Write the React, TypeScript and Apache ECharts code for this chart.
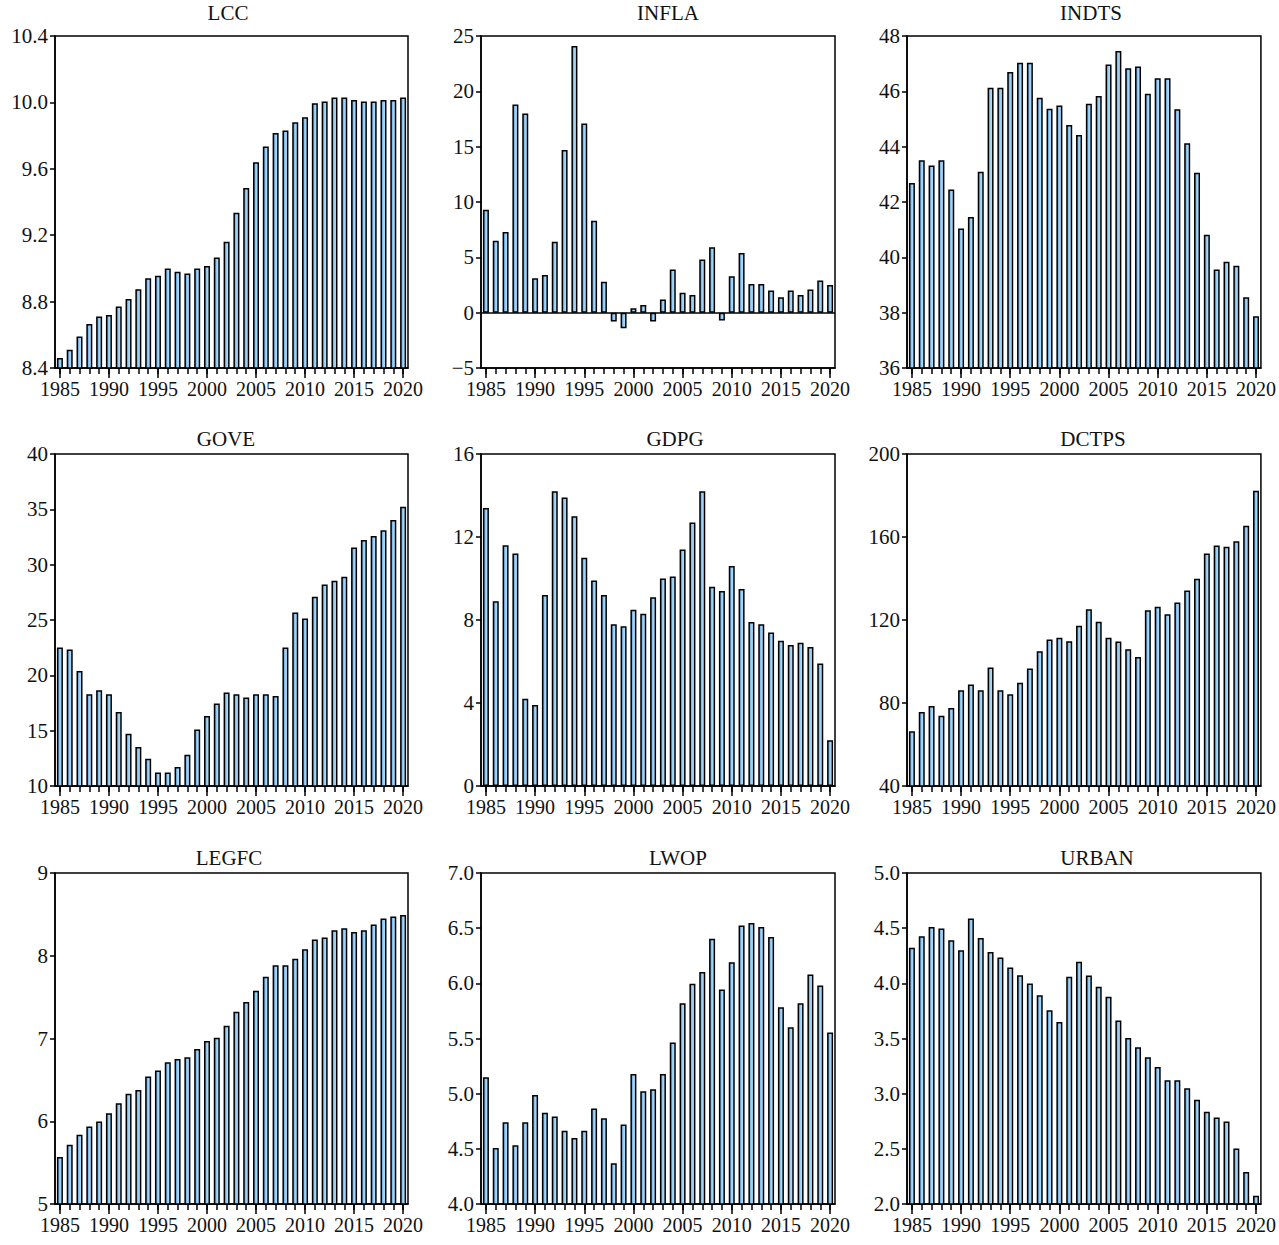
import React, { useEffect, useRef } from "react";
import * as echarts from "echarts";

const years: string[] = [];
for (let y = 1985; y <= 2020; y++) years.push(String(y));

const lcc = [8.46, 8.51, 8.59, 8.665, 8.71, 8.72, 8.77, 8.815, 8.875, 8.94, 8.955, 9.0, 8.98, 8.97, 9.0, 9.015, 9.065, 9.16, 9.335, 9.485, 9.64, 9.735, 9.815, 9.83, 9.88, 9.91, 9.995, 10.005, 10.03, 10.03, 10.015, 10.005, 10.005, 10.015, 10.015, 10.03];
const infla = [9.3, 6.5, 7.3, 18.8, 18.0, 3.1, 3.4, 6.4, 14.7, 24.1, 17.1, 8.3, 2.8, -0.8, -1.4, 0.4, 0.7, -0.8, 1.2, 3.9, 1.8, 1.6, 4.8, 5.9, -0.7, 3.3, 5.4, 2.6, 2.6, 2.0, 1.4, 2.0, 1.6, 2.1, 2.9, 2.5];
const indts = [42.69, 43.51, 43.32, 43.51, 42.45, 41.04, 41.46, 43.09, 46.13, 46.13, 46.7, 47.03, 47.03, 45.77, 45.37, 45.49, 44.78, 44.42, 45.55, 45.83, 46.97, 47.46, 46.83, 46.9, 45.91, 46.47, 46.47, 45.35, 44.12, 43.06, 40.82, 39.56, 39.84, 39.7, 38.56, 37.87];
const gove = [22.51, 22.33, 20.4, 18.29, 18.65, 18.29, 16.69, 14.73, 13.53, 12.47, 11.21, 11.21, 11.72, 12.83, 15.1, 16.33, 17.45, 18.44, 18.29, 17.99, 18.29, 18.29, 18.14, 22.51, 25.68, 25.14, 27.1, 28.21, 28.54, 28.9, 31.56, 32.22, 32.58, 33.12, 34.03, 35.24];
const gdpg = [13.4, 8.9, 11.6, 11.2, 4.2, 3.9, 9.2, 14.2, 13.9, 13.0, 11.0, 9.9, 9.2, 7.8, 7.7, 8.5, 8.3, 9.1, 10.0, 10.1, 11.4, 12.7, 14.2, 9.6, 9.4, 10.6, 9.5, 7.9, 7.8, 7.4, 7.0, 6.8, 6.9, 6.7, 5.9, 2.2];
const dctps = [66.4, 75.7, 78.6, 73.8, 77.6, 86.1, 88.9, 86.1, 97.1, 86.1, 84.2, 89.7, 96.6, 105.0, 110.6, 111.4, 109.8, 117.2, 125.2, 119.1, 111.4, 109.6, 105.9, 102.2, 124.7, 126.4, 122.8, 128.4, 134.2, 139.9, 152.1, 155.9, 155.3, 157.9, 165.4, 182.3];
const legfc = [5.567, 5.716, 5.836, 5.937, 5.997, 6.097, 6.218, 6.331, 6.379, 6.54, 6.612, 6.713, 6.753, 6.773, 6.873, 6.97, 7.01, 7.155, 7.324, 7.44, 7.577, 7.746, 7.886, 7.886, 7.963, 8.079, 8.196, 8.22, 8.308, 8.333, 8.288, 8.308, 8.377, 8.449, 8.473, 8.493];
const lwop = [5.149, 4.508, 4.741, 4.532, 4.741, 4.989, 4.826, 4.792, 4.665, 4.599, 4.665, 4.865, 4.777, 4.369, 4.72, 5.179, 5.022, 5.04, 5.179, 5.464, 5.82, 5.996, 6.102, 6.404, 5.944, 6.192, 6.525, 6.546, 6.51, 6.419, 5.784, 5.603, 5.82, 6.081, 5.981, 5.554];
const urban = [4.322, 4.427, 4.511, 4.496, 4.391, 4.3, 4.587, 4.412, 4.285, 4.234, 4.144, 4.074, 3.999, 3.893, 3.755, 3.649, 4.059, 4.195, 4.071, 3.969, 3.878, 3.664, 3.505, 3.42, 3.33, 3.242, 3.122, 3.122, 3.049, 2.944, 2.835, 2.784, 2.748, 2.504, 2.289, 2.075];

const titles = ["LCC", "INFLA", "INDTS", "GOVE", "GDPG", "DCTPS", "LEGFC", "LWOP", "URBAN"];
const seriesData = [lcc, infla, indts, gove, gdpg, dctps, legfc, lwop, urban];
const yMins = [8.4, -5, 36, 10, 0, 40, 5, 4.0, 2.0];
const yMaxs = [10.4, 25, 48, 40, 16, 200, 9, 7.0, 5.0];
const yIntervals = [0.4, 5, 2, 5, 4, 40, 1, 0.5, 0.5];
const yDecimals = [1, 0, 0, 0, 0, 0, 0, 1, 1];

const FONT = "Liberation Serif";

export default function App() {
  const ref = useRef<HTMLDivElement>(null);
  useEffect(() => {
    if (!ref.current) return;
    const chart = echarts.init(ref.current, undefined, { renderer: "svg" });
    const colLeft = [55, 481, 907];
    const colWidth = [353, 354, 354];
    const rowTop = [36, 454, 873];
    const rowHeight = [332, 332, 331];
    const titleX = [228, 668, 1091, 226, 675, 1093, 229, 678, 1097];
    const titleTop = [2, 428, 847];

    const grid: any[] = [];
    const xAxis: any[] = [];
    const yAxis: any[] = [];
    const series: any[] = [];
    const title: any[] = [];

    for (let i = 0; i < 9; i++) {
      const r = Math.floor(i / 3);
      const c = i % 3;
      grid.push({
        left: colLeft[c],
        top: rowTop[r],
        width: colWidth[c],
        height: rowHeight[r],
        show: true,
        borderColor: "#000",
        borderWidth: 1.5,
        backgroundColor: "#fff",
      });
      title.push({
        text: titles[i],
        left: titleX[i],
        top: titleTop[r],
        textAlign: "center",
        padding: 0,
        textStyle: { fontSize: 21, fontWeight: "normal", fontFamily: FONT, color: "#111" },
      });
      xAxis.push({
        type: "category",
        gridIndex: i,
        data: years,
        position: "bottom",
        axisLine: { show: true, onZero: false, lineStyle: { color: "#000", width: 1.5 } },
        axisTick: { show: true, interval: 0, alignWithLabel: true, length: 6, lineStyle: { color: "#000", width: 1.5 } },
        axisLabel: { show: false },
        splitLine: { show: false },
      });
      xAxis.push({
        type: "category",
        gridIndex: i,
        data: years,
        position: "bottom",
        axisLine: { show: false, onZero: false },
        axisTick: { show: true, interval: 4, alignWithLabel: true, length: 10, lineStyle: { color: "#000", width: 1.5 } },
        axisLabel: { show: true, interval: 4, fontSize: 20, fontFamily: FONT, color: "#111", margin: 11 },
        splitLine: { show: false },
      });
      const dec = yDecimals[i];
      yAxis.push({
        type: "value",
        gridIndex: i,
        min: yMins[i],
        max: yMaxs[i],
        interval: yIntervals[i],
        axisLine: { show: true, lineStyle: { color: "#000", width: 1.5 } },
        axisTick: { show: true, length: 5, lineStyle: { color: "#000", width: 1.5 } },
        axisLabel: {
          fontSize: 21,
          fontFamily: FONT,
          color: "#111",
          margin: 7,
          formatter: (v: number) => {
            const s = Math.abs(v).toFixed(dec);
            return v < 0 ? "\u2212" + s : s;
          },
        },
        splitLine: { show: false },
      });
      const s: any = {
        type: "bar",
        xAxisIndex: i * 2,
        yAxisIndex: i,
        data: seriesData[i],
        barWidth: 6,
        itemStyle: {
          color: {
            type: "linear",
            x: 0, y: 0, x2: 1, y2: 0,
            colorStops: [
              { offset: 0, color: "#4f8fd3" },
              { offset: 0.45, color: "#97cff5" },
              { offset: 1, color: "#b8e4ff" },
            ],
          },
          borderColor: "#000",
          borderWidth: 1.5,
        },
      };
      if (i === 1) {
        s.markLine = {
          silent: true,
          symbol: "none",
          label: { show: false },
          lineStyle: { color: "#000", width: 1.5, type: "solid" },
          data: [{ yAxis: 0 }],
        };
      }
      series.push(s);
    }

    chart.setOption({
      animation: false,
      backgroundColor: "#fff",
      title,
      grid,
      xAxis,
      yAxis,
      series,
    });
    return () => chart.dispose();
  }, []);
  return (
    <div
      ref={ref}
      style={{ position: "absolute", left: 0, top: 0, width: 1279, height: 1245, background: "#fff" }}
    />
  );
}
